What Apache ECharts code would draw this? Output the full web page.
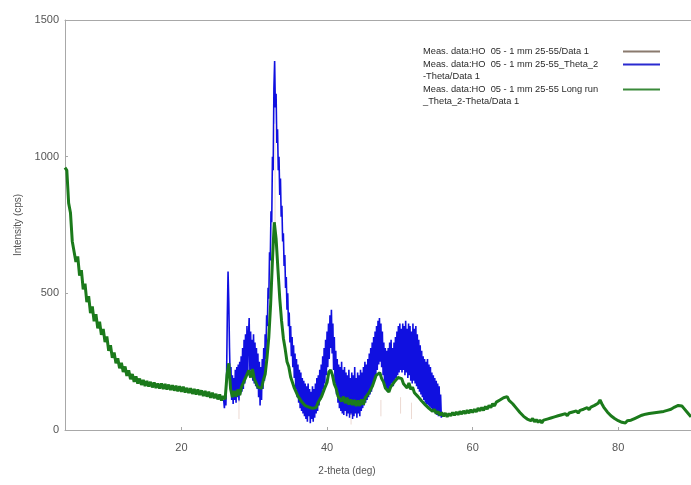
<!DOCTYPE html>
<html>
<head>
<meta charset="utf-8">
<script src="https://cdn.jsdelivr.net/npm/echarts@6/dist/echarts.min.js"></script>
<style>
  html, body { margin: 0; padding: 0; background: #fff; }
  #chart { width: 691px; height: 485px; }
</style>
</head>
<body>
<div id="chart"></div>
<script>
// series names (legend text)
var nameData1 = 'Meas. data:HO  05 - 1 mm 25-55/Data 1';
var nameTheta = 'Meas. data:HO  05 - 1 mm 25-55_Theta_2\n-Theta/Data 1';
var nameLong = 'Meas. data:HO  05 - 1 mm 25-55 Long run\n_Theta_2-Theta/Data 1';

// axis ticks
var xTicks = [20, 40, 60, 80];
var yTicks = [0, 500, 1000, 1500];

// Long run (green): 4.00 .. 90.00, step 0.25 (one group per degree)
var longStart = 4, longStep = 0.25;
var longValues = [
  960,950,830,795, 690,690,615,635, 565,585,515,535, 468,490,428,452,
  398,424,372,396, 348,370,322,342, 290,310,264,284, 244,262,226,246,
  212,232,198,218, 186,205,176,196, 170,188,165,183, 161,179,159,176,
  156,174,154,170, 152,170,150,168, 148,166,146,164, 144,162,142,160,
  140,158,137,154, 135,153,132,150, 130,148,128,145, 124,143,122,140,
  118,136,116,132, 112,130,108,124,
  112,200,244,150, 120,143,122,148, 127,158,152,188, 187,218,192,223,
  187,188,157,158, 152,183,204,264, 340,460,620,760, 700,590,482,400,
  336,296,250,231, 194,187,154,152, 124,128,104,108, 89,93,84,88,
  79,86,82,100, 94,123,124,158, 174,212,220,200, 168,152,124,128,
  105,122,98,118, 93,112,91,110, 88,108,88,112, 93,118,111,136,
  134,162,168,200, 205,210,188,176, 154,158,139,158, 154,176,172,192,
  185,188,169,174, 154,172,149,157, 136,142,122,126, 106,112,92,98,
  79,86,68,76, 60,68,54,64,
  50,62,48,60, 52,64,54,66, 56,68,58,70, 60,72,62,74,
  64,76,66,80, 70,82,72,86, 76,90,82,96, 88,102,96,110,
  104,118,112,122, 108,114,96,98, 80,82,64,66, 50,54,40,46,
  34,42,30,38, 28,36,26,36, 30,40,34,44, 38,48,42,52,
  46,56,50,60, 52,62,56,66, 60,70,62,72, 66,76,70,82,
  74,84,80,90, 84,98,110,96, 84,80,66,62, 52,56,42,44,
  34,38,28,34, 26,34,28,36, 32,42,38,48, 44,54,48,58,
  52,60,54,62, 56,64,58,66, 60,68,62,72, 66,76,74,84,
  80,90,92,88, 80,76,64,60,
  48
];

// Theta_2-Theta (blue): 25.8 .. 55.8, step 0.1
var thetaStart = 25.8, thetaStep = 0.1;
var thetaValues = [
  110,80,130,90,200,420,580,470,300,180,
  230,110,200,95,190,110,220,100,230,120,
  240,105,250,130,270,140,300,150,330,170,
  350,190,380,200,340,410,220,360,200,330,
  180,350,170,320,160,300,150,280,120,250,
  90,230,110,260,150,300,180,350,260,420,
  380,520,480,650,620,800,760,1000,950,1250,
  1350,1180,1230,1050,1100,950,1000,860,920,780,
  820,690,720,600,640,520,560,440,500,380,
  430,320,380,270,340,230,310,190,280,150,
  260,120,240,100,220,80,210,70,190,60,
  180,50,170,40,160,30,170,50,150,25,
  140,40,160,30,150,45,170,60,190,70,
  200,90,220,110,240,130,270,150,300,170,
  330,200,360,230,390,260,420,300,440,280,
  390,220,340,170,290,130,260,100,240,80,
  230,70,250,60,220,55,230,70,210,50,
  200,60,220,45,190,55,210,40,200,50,
  230,60,190,45,210,60,200,50,220,70,
  210,80,230,90,250,100,240,110,260,120,
  280,130,300,140,320,160,340,180,360,200,
  380,220,400,240,410,250,390,230,360,200,
  320,170,300,150,290,140,300,150,320,160,
  330,170,300,160,320,180,340,190,360,200,
  380,210,390,220,370,210,390,220,380,200,
  400,210,370,190,390,200,380,180,360,170,
  390,180,370,170,380,160,350,150,330,140,
  310,130,290,120,270,110,260,100,250,95,
  260,90,240,85,230,80,210,70,200,65,
  190,60,180,55,170,50,160,50,130,45,
  60
];

// Data 1 (faint): short sticks [2theta, low, high]
var data1Sticks = [
  [27.9, 40, 110], [32.85, 760, 1120], [43.3, 20, 60],
  [47.4, 50, 110], [50.1, 60, 120], [51.6, 40, 100]
];

function toPairs(start, step, values) {
  return values.map(function(v, i) { return [+(start + i * step).toFixed(2), v]; });
}
function sticksToPairs(sticks) {
  var out = [];
  sticks.forEach(function(s) { out.push([s[0], s[1]], [s[0], s[2]], [s[0], null]); });
  return out;
}
// legend text: left aligned inside a fixed box, a blank line on top of 2-line names
// so that the icon sits next to the first line
function legendText(name) {
  var lines = name.split('\n').map(function(l) { return '{t|' + l + '}'; });
  if (lines.length > 1) lines.unshift('{t| }');
  return lines.join('\n');
}

var chart = echarts.init(document.getElementById('chart'), null, { renderer: 'canvas' });
var axisGrey = '#a8a8a8', labelInk = '#555', font = 'Liberation Sans';

chart.setOption({
  animation: false,
  backgroundColor: '#fff',
  grid: { left: 65, top: 20, bottom: 55, right: 0 },
  legend: {
    orient: 'vertical', left: 423, top: 47, padding: 0, align: 'right',
    icon: 'rect', itemWidth: 37, itemHeight: 2, itemGap: -8,
    formatter: legendText,
    textStyle: {
      rich: { t: { fontFamily: font, fontSize: 9.3, color: '#2a2a2a', width: 195, align: 'left', lineHeight: 12 } }
    },
    data: [
      { name: nameData1, itemStyle: { color: '#8a7a6e' } },
      { name: nameTheta, itemStyle: { color: '#2a2ad0' } },
      { name: nameLong, itemStyle: { color: '#3a8a3a' } }
    ]
  },
  xAxis: [{
    type: 'value', min: 4, max: 90,
    name: '2-theta (deg)', nameLocation: 'middle', nameGap: 36,
    nameTextStyle: { fontFamily: font, fontSize: 10, color: labelInk, padding: [0, 62, 0, 0] },
    axisLine: { lineStyle: { color: axisGrey } },
    axisTick: { show: true, inside: true, length: 3, lineStyle: { color: axisGrey } },
    axisLabel: {
      fontFamily: font, fontSize: 11, color: labelInk, margin: 12,
      showMinLabel: false, showMaxLabel: false,
      formatter: function(v) { return xTicks.indexOf(v) >= 0 ? v : ''; }
    },
    splitLine: { show: false }
  }, {
    type: 'value', position: 'top', min: 4, max: 90,
    axisLine: { show: true, lineStyle: { color: axisGrey } },
    axisTick: { show: false }, axisLabel: { show: false }, splitLine: { show: false }
  }],
  yAxis: {
    type: 'value', min: 0, max: 1500, interval: 500,
    name: 'Intensity (cps)', nameLocation: 'middle', nameGap: 41,
    nameTextStyle: { fontFamily: font, fontSize: 10, color: labelInk },
    axisLine: { show: true, lineStyle: { color: axisGrey } },
    axisTick: { show: true, inside: true, length: 3, lineStyle: { color: axisGrey } },
    axisLabel: {
      fontFamily: font, fontSize: 11, color: labelInk, margin: 6,
      formatter: function(v) { return yTicks.indexOf(v) >= 0 ? v : ''; }
    },
    splitLine: { show: false }
  },
  series: [
    {
      name: nameData1, type: 'line', symbol: 'none', z: 3,
      itemStyle: { color: '#8a7a6e' },
      lineStyle: { color: '#ecd9d2', width: 1 },
      data: sticksToPairs(data1Sticks)
    },
    {
      name: nameTheta, type: 'line', symbol: 'none', z: 2,
      itemStyle: { color: '#2a2ad0' },
      lineStyle: { color: '#1010e0', width: 1.6 },
      data: toPairs(thetaStart, thetaStep, thetaValues)
    },
    {
      name: nameLong, type: 'line', symbol: 'none', z: 4,
      itemStyle: { color: '#3a8a3a' },
      lineStyle: { color: '#1b7a1b', width: 3 },
      data: toPairs(longStart, longStep, longValues)
    }
  ]
});
</script>
</body>
</html>
